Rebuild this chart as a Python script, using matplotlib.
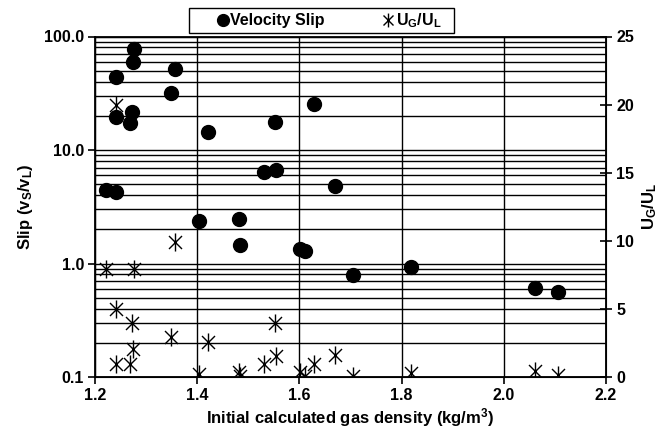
import matplotlib
matplotlib.use("Agg")
import matplotlib.pyplot as plt
from matplotlib.path import Path
from matplotlib.lines import Line2D
from matplotlib.patches import Rectangle
from matplotlib.ticker import FixedLocator, LogLocator, NullFormatter, FuncFormatter

# initial calculated gas density (kg/m3) for each run
density = [1.222, 1.241, 1.241, 1.242, 1.268, 1.272, 1.274, 1.277, 1.348, 1.357,
           1.403, 1.421, 1.482, 1.483, 1.530, 1.553, 1.555, 1.601, 1.611, 1.629,
           1.669, 1.704, 1.818, 2.062, 2.107]
# velocity slip vS/vL (left, log axis)
slip = [4.45, 19.6, 4.3, 43.7, 17.2, 21.7, 59.3, 77.0, 31.6, 52.0,
        2.38, 14.5, 2.47, 1.47, 6.37, 17.5, 6.67, 1.35, 1.28, 25.3,
        4.82, 0.79, 0.94, 0.605, 0.565]
# superficial velocity ratio UG/UL (right axis)
ug_ul = [7.9, 20.0, 4.97, 0.95, 0.95, 3.94, 2.03, 7.9, 2.91, 9.9,
         0.22, 2.59, 0.39, 0.07, 0.93, 3.99, 1.57, 0.39, 0.1, 0.95,
         1.6, 0.1, 0.32, 0.44, 0.15]

x_ticks = [1.2, 1.4, 1.6, 1.8, 2.0, 2.2]
slip_ticks = [0.1, 1, 10, 100]
ratio_ticks = [0, 5, 10, 15, 20, 25]

plt.rcParams["font.family"] = "Liberation Sans"
plt.rcParams["font.weight"] = "bold"
plt.rcParams["axes.labelweight"] = "bold"
plt.rcParams["mathtext.fontset"] = "custom"
plt.rcParams["mathtext.rm"] = "Liberation Sans:bold"
plt.rcParams["mathtext.bf"] = "Liberation Sans:bold"
plt.rcParams["mathtext.default"] = "bf"

# six-armed asterisk: vertical bar plus a cross
star = Path([(0, -1), (0, 1), (-0.72, -0.72), (0.72, 0.72), (-0.72, 0.72), (0.72, -0.72)],
            [Path.MOVETO, Path.LINETO, Path.MOVETO, Path.LINETO, Path.MOVETO, Path.LINETO])

fig = plt.figure(figsize=(6.61, 4.34), dpi=100)
ax = fig.add_axes([95 / 661, 57 / 434, 511 / 661, 340.5 / 434])

ax.set_yscale("log")
ax.set_xlim(1.2, 2.2)
ax.set_ylim(0.1, 100)
ax.set_xticks(x_ticks)
ax.xaxis.set_major_formatter(FuncFormatter(lambda v, p: f"{v:.1f}"))
ax.yaxis.set_major_locator(FixedLocator(slip_ticks))
ax.yaxis.set_major_formatter(FuncFormatter(lambda v, p: f"{v:.1f}"))
ax.yaxis.set_minor_locator(LogLocator(base=10, subs=range(2, 10)))
ax.yaxis.set_minor_formatter(NullFormatter())
ax.set_axisbelow(True)
ax.grid(axis="x", which="major", color="black", lw=1.0)
ax.grid(axis="y", which="both", color="black", lw=1.0)
ax.tick_params(which="major", direction="out", length=5, width=1.2, labelsize=11.5, pad=3)
ax.tick_params(which="minor", length=0)
for s in ax.spines.values():
    s.set_linewidth(1.3)

ax.scatter(density, slip, s=100, color="black", zorder=3)

ax2 = ax.twinx()
ax2.set_ylim(0, 25)
ax2.set_yticks(ratio_ticks)
ax2.tick_params(direction="inout", length=9, width=1.2, labelsize=11.5, pad=3)
ax2.plot(density, ug_ul, ls="none", marker=star, markersize=13,
         markeredgewidth=1.0, color="black", zorder=4)

ax.set_xlabel("Initial calculated gas density (kg/m$^3$)", fontsize=12, labelpad=2)
ax.set_ylabel("Slip (v$_S$/v$_L$)", fontsize=12, labelpad=6)
ax2.set_ylabel("U$_G$/U$_L$", fontsize=12, labelpad=4)

# legend: frameless entries inside a plain box above the plot
handles = [
    Line2D([], [], ls="none", marker="o", markersize=8.5, color="black"),
    Line2D([], [], ls="none", marker=star, markersize=10, markeredgewidth=1.0, color="black"),
]
fig.legend(handles, ["Velocity Slip", "U$_G$/U$_L$"], ncol=2,
           loc="center left", bbox_to_anchor=(217 / 661, 1 - 20.5 / 434),
           borderaxespad=0, borderpad=0, frameon=False, fontsize=11.5,
           handletextpad=0.1, columnspacing=3.6, handlelength=0.73)
fig.add_artist(Rectangle((189 / 661, 1 - 33 / 434), 265 / 661, 25 / 434,
                         transform=fig.transFigure, fill=False, lw=1.0, ec="black"))

fig.savefig("out.png", dpi=100)
